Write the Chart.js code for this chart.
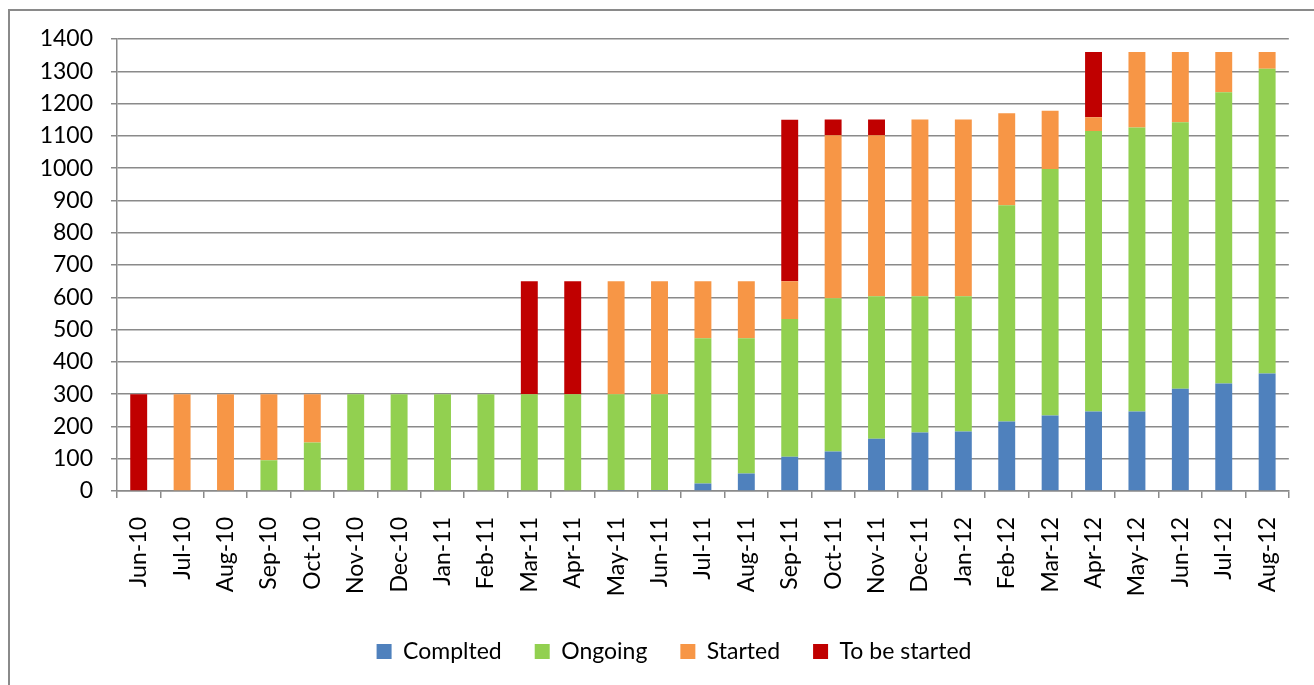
<!DOCTYPE html>
<html>
<head>
<meta charset="utf-8">
<script src="https://cdn.jsdelivr.net/npm/chart.js@4"></script>
<style>
  html, body { margin: 0; padding: 0; background: #fff; overflow: hidden; }
  .frame {
    position: absolute; left: 8px; top: 9px; width: 1330px; height: 700px;
    border: 2px solid #8a8a8a; box-sizing: border-box;
  }
  .chart-wrap { position: absolute; left: 0; top: 0; width: 1314px; height: 685px; }
</style>
</head>
<body>
<div class="frame"></div>
<div class="chart-wrap"><canvas id="progressChart"></canvas></div>
<script>
const months = [
  "Jun-10", "Jul-10", "Aug-10", "Sep-10", "Oct-10", "Nov-10", "Dec-10",
  "Jan-11", "Feb-11", "Mar-11", "Apr-11", "May-11", "Jun-11", "Jul-11",
  "Aug-11", "Sep-11", "Oct-11", "Nov-11", "Dec-11", "Jan-12", "Feb-12",
  "Mar-12", "Apr-12", "May-12", "Jun-12", "Jul-12", "Aug-12",
];
const completed = [
  0, 0, 0, 0, 0, 0, 0, 0, 0, 0, 0, 3, 3, 23, 54, 106, 122, 162, 181, 184, 215,
  234, 246, 246, 317, 333, 364,
];
const ongoing = [
  0, 0, 0, 95, 150, 300, 300, 300, 300, 300, 300, 297, 297, 450, 419, 427, 475,
  441, 422, 419, 670, 763, 869, 880, 825, 902, 944,
];
const started = [
  0, 300, 300, 205, 150, 0, 0, 0, 0, 0, 0, 350, 350, 177, 177, 117, 505, 499,
  548, 548, 285, 181, 43, 234, 218, 125, 52,
];
const toBeStarted = [
  300, 0, 0, 0, 0, 0, 0, 0, 0, 350, 350, 0, 0, 0, 0, 500, 49, 49, 0, 0, 0, 0,
  202, 0, 0, 0, 0,
];
const yTicks = [0, 100, 200, 300, 400, 500, 600, 700, 800, 900, 1000, 1100, 1200, 1300, 1400];

const axisGrey = "#8a8a8a";
const labelFont = { family: "Lato", size: 23 };

function series(label, data, color) {
  return {
    label: label,
    data: data,
    backgroundColor: color,
    borderWidth: 0,
    barPercentage: 0.39,
    categoryPercentage: 1,
  };
}

// the original legend sits a little right of the canvas centre
const legendShift = {
  id: "legendShift",
  afterLayout(chart) {
    chart.legend.left += 19;
    chart.legend.right += 19;
  },
};

const ctx = document.getElementById("progressChart").getContext("2d");

const progressChart = new Chart(ctx, {
  type: "bar",
  data: {
    labels: months,
    datasets: [
      series("Complted", completed, "#4F81BD"),
      series("Ongoing", ongoing, "#92D050"),
      series("Started", started, "#F79646"),
      series("To be started", toBeStarted, "#C00000"),
    ],
  },
  plugins: [legendShift],
  options: {
    responsive: true,
    maintainAspectRatio: false,
    animation: false,
    layout: {
      padding: { left: 10, right: 14, top: 39, bottom: 12 },
    },
    plugins: {
      legend: {
        position: "bottom",
        labels: {
          boxWidth: 15,
          boxHeight: 15,
          padding: 33,
          color: "#000",
          font: labelFont,
        },
      },
      tooltip: { enabled: false },
    },
    scales: {
      x: {
        stacked: true,
        grid: {
          drawOnChartArea: false,
          drawTicks: true,
          tickLength: 7,
          color: axisGrey,
          lineWidth: 1.5,
        },
        border: { color: axisGrey, width: 1.5 },
        ticks: {
          minRotation: 90,
          maxRotation: 90,
          autoSkip: false,
          padding: 19,
          color: "#000",
          font: labelFont,
        },
        afterFit: function (scale) {
          scale.height = 116;
        },
      },
      y: {
        stacked: true,
        min: 0,
        max: 1400,
        afterBuildTicks: function (scale) {
          scale.ticks = yTicks.map((v) => ({ value: v }));
        },
        grid: {
          color: axisGrey,
          lineWidth: 1.5,
          tickLength: 6,
        },
        border: { color: axisGrey, width: 1.5 },
        ticks: {
          padding: 18,
          color: "#000",
          font: labelFont,
          callback: function (value) {
            return String(value);
          },
        },
        afterFit: function (scale) {
          scale.width = 107;
        },
      },
    },
  },
});
</script>
</body>
</html>
